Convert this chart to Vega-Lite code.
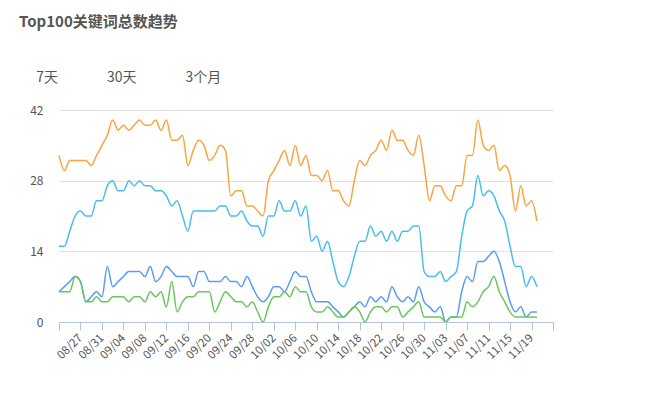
{
"$schema":"https://vega.github.io/schema/vega-lite/v6.json",
"width":494,"height":212,
"autosize":{"type":"none"},
"padding":{"left":59,"top":110,"right":94,"bottom":76},
"background":"white",
"title":{"text":"Top100关键词总数趋势","subtitle":"\u200b\u2003 7天\u2003\u2003\u2003\u200230天\u2003\u2003\u2003\u20023个月","anchor":"start","frame":"group","dx":-40,"offset":19,"fontSize":15,"fontWeight":"bold","color":"#555555","subtitleColor":"#555555","subtitleFontSize":14,"subtitlePadding":41,"font":"Noto Sans CJK SC","subtitleFont":"Noto Sans CJK SC"},
"data":{"values":[
{"date":"2019-08-23","series":"前100","value":33},{"date":"2019-08-24","series":"前100","value":30},{"date":"2019-08-25","series":"前100","value":32},{"date":"2019-08-26","series":"前100","value":32},{"date":"2019-08-27","series":"前100","value":32},{"date":"2019-08-28","series":"前100","value":32},{"date":"2019-08-29","series":"前100","value":31},{"date":"2019-08-30","series":"前100","value":33},{"date":"2019-08-31","series":"前100","value":35},{"date":"2019-09-01","series":"前100","value":37},
{"date":"2019-09-02","series":"前100","value":40},{"date":"2019-09-03","series":"前100","value":38},{"date":"2019-09-04","series":"前100","value":39},{"date":"2019-09-05","series":"前100","value":38},{"date":"2019-09-06","series":"前100","value":39},{"date":"2019-09-07","series":"前100","value":40},{"date":"2019-09-08","series":"前100","value":39},{"date":"2019-09-09","series":"前100","value":39},{"date":"2019-09-10","series":"前100","value":40},{"date":"2019-09-11","series":"前100","value":38},
{"date":"2019-09-12","series":"前100","value":40},{"date":"2019-09-13","series":"前100","value":36},{"date":"2019-09-14","series":"前100","value":36},{"date":"2019-09-15","series":"前100","value":37},{"date":"2019-09-16","series":"前100","value":31},{"date":"2019-09-17","series":"前100","value":34},{"date":"2019-09-18","series":"前100","value":36},{"date":"2019-09-19","series":"前100","value":35},{"date":"2019-09-20","series":"前100","value":32},{"date":"2019-09-21","series":"前100","value":33},
{"date":"2019-09-22","series":"前100","value":35},{"date":"2019-09-23","series":"前100","value":34},{"date":"2019-09-24","series":"前100","value":25},{"date":"2019-09-25","series":"前100","value":26},{"date":"2019-09-26","series":"前100","value":26},{"date":"2019-09-27","series":"前100","value":23},{"date":"2019-09-28","series":"前100","value":23},{"date":"2019-09-29","series":"前100","value":22},{"date":"2019-09-30","series":"前100","value":21},{"date":"2019-10-01","series":"前100","value":28},
{"date":"2019-10-02","series":"前100","value":30},{"date":"2019-10-03","series":"前100","value":32},{"date":"2019-10-04","series":"前100","value":34},{"date":"2019-10-05","series":"前100","value":31},{"date":"2019-10-06","series":"前100","value":35},{"date":"2019-10-07","series":"前100","value":31},{"date":"2019-10-08","series":"前100","value":33},{"date":"2019-10-09","series":"前100","value":29},{"date":"2019-10-10","series":"前100","value":29},{"date":"2019-10-11","series":"前100","value":28},
{"date":"2019-10-12","series":"前100","value":30},{"date":"2019-10-13","series":"前100","value":26},{"date":"2019-10-14","series":"前100","value":26},{"date":"2019-10-15","series":"前100","value":24},{"date":"2019-10-16","series":"前100","value":23},{"date":"2019-10-17","series":"前100","value":28},{"date":"2019-10-18","series":"前100","value":32},{"date":"2019-10-19","series":"前100","value":31},{"date":"2019-10-20","series":"前100","value":33},{"date":"2019-10-21","series":"前100","value":34},
{"date":"2019-10-22","series":"前100","value":36},{"date":"2019-10-23","series":"前100","value":34},{"date":"2019-10-24","series":"前100","value":38},{"date":"2019-10-25","series":"前100","value":36},{"date":"2019-10-26","series":"前100","value":36},{"date":"2019-10-27","series":"前100","value":34},{"date":"2019-10-28","series":"前100","value":33},{"date":"2019-10-29","series":"前100","value":37},{"date":"2019-10-30","series":"前100","value":31},{"date":"2019-10-31","series":"前100","value":24},
{"date":"2019-11-01","series":"前100","value":27},{"date":"2019-11-02","series":"前100","value":27},{"date":"2019-11-03","series":"前100","value":25},{"date":"2019-11-04","series":"前100","value":24},{"date":"2019-11-05","series":"前100","value":27},{"date":"2019-11-06","series":"前100","value":27},{"date":"2019-11-07","series":"前100","value":33},{"date":"2019-11-08","series":"前100","value":33},{"date":"2019-11-09","series":"前100","value":40},{"date":"2019-11-10","series":"前100","value":35},
{"date":"2019-11-11","series":"前100","value":34},{"date":"2019-11-12","series":"前100","value":35},{"date":"2019-11-13","series":"前100","value":30},{"date":"2019-11-14","series":"前100","value":31},{"date":"2019-11-15","series":"前100","value":29},{"date":"2019-11-16","series":"前100","value":22},{"date":"2019-11-17","series":"前100","value":27},{"date":"2019-11-18","series":"前100","value":23},{"date":"2019-11-19","series":"前100","value":24},{"date":"2019-11-20","series":"前100","value":20},

{"date":"2019-08-23","series":"前50","value":15},{"date":"2019-08-24","series":"前50","value":15},{"date":"2019-08-25","series":"前50","value":18},{"date":"2019-08-26","series":"前50","value":21},{"date":"2019-08-27","series":"前50","value":22},{"date":"2019-08-28","series":"前50","value":21},{"date":"2019-08-29","series":"前50","value":21},{"date":"2019-08-30","series":"前50","value":24},{"date":"2019-08-31","series":"前50","value":24},{"date":"2019-09-01","series":"前50","value":27},
{"date":"2019-09-02","series":"前50","value":28},{"date":"2019-09-03","series":"前50","value":26},{"date":"2019-09-04","series":"前50","value":26},{"date":"2019-09-05","series":"前50","value":28},{"date":"2019-09-06","series":"前50","value":27},{"date":"2019-09-07","series":"前50","value":28},{"date":"2019-09-08","series":"前50","value":27},{"date":"2019-09-09","series":"前50","value":27},{"date":"2019-09-10","series":"前50","value":26},{"date":"2019-09-11","series":"前50","value":26},
{"date":"2019-09-12","series":"前50","value":25},{"date":"2019-09-13","series":"前50","value":23},{"date":"2019-09-14","series":"前50","value":24},{"date":"2019-09-15","series":"前50","value":21},{"date":"2019-09-16","series":"前50","value":18},{"date":"2019-09-17","series":"前50","value":22},{"date":"2019-09-18","series":"前50","value":22},{"date":"2019-09-19","series":"前50","value":22},{"date":"2019-09-20","series":"前50","value":22},{"date":"2019-09-21","series":"前50","value":22},
{"date":"2019-09-22","series":"前50","value":23},{"date":"2019-09-23","series":"前50","value":23},{"date":"2019-09-24","series":"前50","value":21},{"date":"2019-09-25","series":"前50","value":21},{"date":"2019-09-26","series":"前50","value":22},{"date":"2019-09-27","series":"前50","value":20},{"date":"2019-09-28","series":"前50","value":19},{"date":"2019-09-29","series":"前50","value":19},{"date":"2019-09-30","series":"前50","value":17},{"date":"2019-10-01","series":"前50","value":21},
{"date":"2019-10-02","series":"前50","value":21},{"date":"2019-10-03","series":"前50","value":24},{"date":"2019-10-04","series":"前50","value":22},{"date":"2019-10-05","series":"前50","value":22},{"date":"2019-10-06","series":"前50","value":24},{"date":"2019-10-07","series":"前50","value":21},{"date":"2019-10-08","series":"前50","value":23},{"date":"2019-10-09","series":"前50","value":16},{"date":"2019-10-10","series":"前50","value":17},{"date":"2019-10-11","series":"前50","value":14},
{"date":"2019-10-12","series":"前50","value":16},{"date":"2019-10-13","series":"前50","value":12},{"date":"2019-10-14","series":"前50","value":8},{"date":"2019-10-15","series":"前50","value":7},{"date":"2019-10-16","series":"前50","value":9},{"date":"2019-10-17","series":"前50","value":13},{"date":"2019-10-18","series":"前50","value":16},{"date":"2019-10-19","series":"前50","value":16},{"date":"2019-10-20","series":"前50","value":19},{"date":"2019-10-21","series":"前50","value":17},
{"date":"2019-10-22","series":"前50","value":18},{"date":"2019-10-23","series":"前50","value":16},{"date":"2019-10-24","series":"前50","value":18},{"date":"2019-10-25","series":"前50","value":16},{"date":"2019-10-26","series":"前50","value":18},{"date":"2019-10-27","series":"前50","value":18},{"date":"2019-10-28","series":"前50","value":19},{"date":"2019-10-29","series":"前50","value":19},{"date":"2019-10-30","series":"前50","value":10},{"date":"2019-10-31","series":"前50","value":9},
{"date":"2019-11-01","series":"前50","value":9},{"date":"2019-11-02","series":"前50","value":10},{"date":"2019-11-03","series":"前50","value":8},{"date":"2019-11-04","series":"前50","value":9},{"date":"2019-11-05","series":"前50","value":10},{"date":"2019-11-06","series":"前50","value":17},{"date":"2019-11-07","series":"前50","value":22},{"date":"2019-11-08","series":"前50","value":23},{"date":"2019-11-09","series":"前50","value":29},{"date":"2019-11-10","series":"前50","value":25},
{"date":"2019-11-11","series":"前50","value":26},{"date":"2019-11-12","series":"前50","value":25},{"date":"2019-11-13","series":"前50","value":22},{"date":"2019-11-14","series":"前50","value":20},{"date":"2019-11-15","series":"前50","value":15},{"date":"2019-11-16","series":"前50","value":11},{"date":"2019-11-17","series":"前50","value":11},{"date":"2019-11-18","series":"前50","value":7},{"date":"2019-11-19","series":"前50","value":9},{"date":"2019-11-20","series":"前50","value":7},

{"date":"2019-08-23","series":"前20","value":6},{"date":"2019-08-24","series":"前20","value":7},{"date":"2019-08-25","series":"前20","value":8},{"date":"2019-08-26","series":"前20","value":9},{"date":"2019-08-27","series":"前20","value":8},{"date":"2019-08-28","series":"前20","value":4},{"date":"2019-08-29","series":"前20","value":5},{"date":"2019-08-30","series":"前20","value":6},{"date":"2019-08-31","series":"前20","value":5},{"date":"2019-09-01","series":"前20","value":11},
{"date":"2019-09-02","series":"前20","value":7},{"date":"2019-09-03","series":"前20","value":8},{"date":"2019-09-04","series":"前20","value":9},{"date":"2019-09-05","series":"前20","value":10},{"date":"2019-09-06","series":"前20","value":10},{"date":"2019-09-07","series":"前20","value":10},{"date":"2019-09-08","series":"前20","value":9},{"date":"2019-09-09","series":"前20","value":11},{"date":"2019-09-10","series":"前20","value":8},{"date":"2019-09-11","series":"前20","value":9},
{"date":"2019-09-12","series":"前20","value":11},{"date":"2019-09-13","series":"前20","value":10},{"date":"2019-09-14","series":"前20","value":9},{"date":"2019-09-15","series":"前20","value":9},{"date":"2019-09-16","series":"前20","value":9},{"date":"2019-09-17","series":"前20","value":7},{"date":"2019-09-18","series":"前20","value":10},{"date":"2019-09-19","series":"前20","value":10},{"date":"2019-09-20","series":"前20","value":8},{"date":"2019-09-21","series":"前20","value":8},
{"date":"2019-09-22","series":"前20","value":8},{"date":"2019-09-23","series":"前20","value":9},{"date":"2019-09-24","series":"前20","value":8},{"date":"2019-09-25","series":"前20","value":8},{"date":"2019-09-26","series":"前20","value":7},{"date":"2019-09-27","series":"前20","value":9},{"date":"2019-09-28","series":"前20","value":7},{"date":"2019-09-29","series":"前20","value":5},{"date":"2019-09-30","series":"前20","value":4},{"date":"2019-10-01","series":"前20","value":5},
{"date":"2019-10-02","series":"前20","value":7},{"date":"2019-10-03","series":"前20","value":7},{"date":"2019-10-04","series":"前20","value":6},{"date":"2019-10-05","series":"前20","value":8},{"date":"2019-10-06","series":"前20","value":10},{"date":"2019-10-07","series":"前20","value":9},{"date":"2019-10-08","series":"前20","value":9},{"date":"2019-10-09","series":"前20","value":6},{"date":"2019-10-10","series":"前20","value":4},{"date":"2019-10-11","series":"前20","value":4},
{"date":"2019-10-12","series":"前20","value":4},{"date":"2019-10-13","series":"前20","value":3},{"date":"2019-10-14","series":"前20","value":2},{"date":"2019-10-15","series":"前20","value":1},{"date":"2019-10-16","series":"前20","value":2},{"date":"2019-10-17","series":"前20","value":3},{"date":"2019-10-18","series":"前20","value":4},{"date":"2019-10-19","series":"前20","value":3},{"date":"2019-10-20","series":"前20","value":5},{"date":"2019-10-21","series":"前20","value":4},
{"date":"2019-10-22","series":"前20","value":5},{"date":"2019-10-23","series":"前20","value":4},{"date":"2019-10-24","series":"前20","value":7},{"date":"2019-10-25","series":"前20","value":5},{"date":"2019-10-26","series":"前20","value":4},{"date":"2019-10-27","series":"前20","value":5},{"date":"2019-10-28","series":"前20","value":4},{"date":"2019-10-29","series":"前20","value":7},{"date":"2019-10-30","series":"前20","value":4},{"date":"2019-10-31","series":"前20","value":3},
{"date":"2019-11-01","series":"前20","value":2},{"date":"2019-11-02","series":"前20","value":3},{"date":"2019-11-03","series":"前20","value":0},{"date":"2019-11-04","series":"前20","value":1},{"date":"2019-11-05","series":"前20","value":1},{"date":"2019-11-06","series":"前20","value":6},{"date":"2019-11-07","series":"前20","value":9},{"date":"2019-11-08","series":"前20","value":8},{"date":"2019-11-09","series":"前20","value":12},{"date":"2019-11-10","series":"前20","value":12},
{"date":"2019-11-11","series":"前20","value":13},{"date":"2019-11-12","series":"前20","value":14},{"date":"2019-11-13","series":"前20","value":12},{"date":"2019-11-14","series":"前20","value":8},{"date":"2019-11-15","series":"前20","value":4},{"date":"2019-11-16","series":"前20","value":2},{"date":"2019-11-17","series":"前20","value":3},{"date":"2019-11-18","series":"前20","value":1},{"date":"2019-11-19","series":"前20","value":2},{"date":"2019-11-20","series":"前20","value":2},

{"date":"2019-08-23","series":"前10","value":6},{"date":"2019-08-24","series":"前10","value":6},{"date":"2019-08-25","series":"前10","value":6},{"date":"2019-08-26","series":"前10","value":9},{"date":"2019-08-27","series":"前10","value":8},{"date":"2019-08-28","series":"前10","value":4},{"date":"2019-08-29","series":"前10","value":4},{"date":"2019-08-30","series":"前10","value":5},{"date":"2019-08-31","series":"前10","value":4},{"date":"2019-09-01","series":"前10","value":4},
{"date":"2019-09-02","series":"前10","value":5},{"date":"2019-09-03","series":"前10","value":5},{"date":"2019-09-04","series":"前10","value":5},{"date":"2019-09-05","series":"前10","value":4},{"date":"2019-09-06","series":"前10","value":5},{"date":"2019-09-07","series":"前10","value":5},{"date":"2019-09-08","series":"前10","value":4},{"date":"2019-09-09","series":"前10","value":6},{"date":"2019-09-10","series":"前10","value":5},{"date":"2019-09-11","series":"前10","value":6},
{"date":"2019-09-12","series":"前10","value":3},{"date":"2019-09-13","series":"前10","value":8},{"date":"2019-09-14","series":"前10","value":2},{"date":"2019-09-15","series":"前10","value":4},{"date":"2019-09-16","series":"前10","value":5},{"date":"2019-09-17","series":"前10","value":5},{"date":"2019-09-18","series":"前10","value":6},{"date":"2019-09-19","series":"前10","value":6},{"date":"2019-09-20","series":"前10","value":6},{"date":"2019-09-21","series":"前10","value":2},
{"date":"2019-09-22","series":"前10","value":4},{"date":"2019-09-23","series":"前10","value":6},{"date":"2019-09-24","series":"前10","value":5},{"date":"2019-09-25","series":"前10","value":4},{"date":"2019-09-26","series":"前10","value":4},{"date":"2019-09-27","series":"前10","value":3},{"date":"2019-09-28","series":"前10","value":4},{"date":"2019-09-29","series":"前10","value":2},{"date":"2019-09-30","series":"前10","value":0},{"date":"2019-10-01","series":"前10","value":3},
{"date":"2019-10-02","series":"前10","value":5},{"date":"2019-10-03","series":"前10","value":5},{"date":"2019-10-04","series":"前10","value":6},{"date":"2019-10-05","series":"前10","value":5},{"date":"2019-10-06","series":"前10","value":7},{"date":"2019-10-07","series":"前10","value":6},{"date":"2019-10-08","series":"前10","value":6},{"date":"2019-10-09","series":"前10","value":3},{"date":"2019-10-10","series":"前10","value":2},{"date":"2019-10-11","series":"前10","value":2},
{"date":"2019-10-12","series":"前10","value":3},{"date":"2019-10-13","series":"前10","value":2},{"date":"2019-10-14","series":"前10","value":1},{"date":"2019-10-15","series":"前10","value":1},{"date":"2019-10-16","series":"前10","value":2},{"date":"2019-10-17","series":"前10","value":3},{"date":"2019-10-18","series":"前10","value":2},{"date":"2019-10-19","series":"前10","value":0},{"date":"2019-10-20","series":"前10","value":2},{"date":"2019-10-21","series":"前10","value":3},
{"date":"2019-10-22","series":"前10","value":3},{"date":"2019-10-23","series":"前10","value":2},{"date":"2019-10-24","series":"前10","value":3},{"date":"2019-10-25","series":"前10","value":3},{"date":"2019-10-26","series":"前10","value":1},{"date":"2019-10-27","series":"前10","value":2},{"date":"2019-10-28","series":"前10","value":3},{"date":"2019-10-29","series":"前10","value":4},{"date":"2019-10-30","series":"前10","value":1},{"date":"2019-10-31","series":"前10","value":1},
{"date":"2019-11-01","series":"前10","value":1},{"date":"2019-11-02","series":"前10","value":1},{"date":"2019-11-03","series":"前10","value":0},{"date":"2019-11-04","series":"前10","value":1},{"date":"2019-11-05","series":"前10","value":1},{"date":"2019-11-06","series":"前10","value":1},{"date":"2019-11-07","series":"前10","value":4},{"date":"2019-11-08","series":"前10","value":3},{"date":"2019-11-09","series":"前10","value":4},{"date":"2019-11-10","series":"前10","value":6},
{"date":"2019-11-11","series":"前10","value":7},{"date":"2019-11-12","series":"前10","value":9},{"date":"2019-11-13","series":"前10","value":6},{"date":"2019-11-14","series":"前10","value":4},{"date":"2019-11-15","series":"前10","value":2},{"date":"2019-11-16","series":"前10","value":1},{"date":"2019-11-17","series":"前10","value":1},{"date":"2019-11-18","series":"前10","value":1},{"date":"2019-11-19","series":"前10","value":1},{"date":"2019-11-20","series":"前10","value":1}
]},
"mark":{"type":"line","interpolate":"monotone","strokeWidth":1.5},
"encoding":{
"x":{"field":"date","type":"temporal","scale":{"type":"utc","domain":[{"year":2019,"month":8,"date":23,"utc":true},{"year":2019,"month":11,"date":23,"utc":true}]},
"axis":{"title":null,"grid":false,"zindex":1,
"values":[{"year":2019,"month":8,"date":23,"utc":true},{"year":2019,"month":8,"date":27,"utc":true},{"year":2019,"month":8,"date":31,"utc":true},{"year":2019,"month":9,"date":4,"utc":true},{"year":2019,"month":9,"date":8,"utc":true},{"year":2019,"month":9,"date":12,"utc":true},{"year":2019,"month":9,"date":16,"utc":true},{"year":2019,"month":9,"date":20,"utc":true},{"year":2019,"month":9,"date":24,"utc":true},{"year":2019,"month":9,"date":28,"utc":true},{"year":2019,"month":10,"date":2,"utc":true},{"year":2019,"month":10,"date":6,"utc":true},{"year":2019,"month":10,"date":10,"utc":true},{"year":2019,"month":10,"date":14,"utc":true},{"year":2019,"month":10,"date":18,"utc":true},{"year":2019,"month":10,"date":22,"utc":true},{"year":2019,"month":10,"date":26,"utc":true},{"year":2019,"month":10,"date":30,"utc":true},{"year":2019,"month":11,"date":3,"utc":true},{"year":2019,"month":11,"date":7,"utc":true},{"year":2019,"month":11,"date":11,"utc":true},{"year":2019,"month":11,"date":15,"utc":true},{"year":2019,"month":11,"date":19,"utc":true},{"year":2019,"month":11,"date":23,"utc":true}],
"labelExpr":"(utcFormat(datum.value,'%m/%d')=='08/23'||utcFormat(datum.value,'%m/%d')=='11/23')?'':utcFormat(datum.value,'%m/%d')",
"labelAngle":-45,"labelBaseline":"middle","labelFontSize":11.5,"labelColor":"#555555","labelPadding":6,"labelOverlap":false,"labelFlush":false,"labelBound":false,
"domainColor":"#b3c4db","tickColor":"#b3c4db","tickSize":8,"domainWidth":1}},
"y":{"field":"value","type":"quantitative","scale":{"domain":[0,42],"nice":false},
"axis":{"title":null,"values":[0,14,28,42],"domain":false,"ticks":false,"gridColor":"#e2e2e2","labelColor":"#555555","labelFontSize":12,"labelPadding":16,"zindex":0}},
"color":{"field":"series","type":"nominal","legend":null,"scale":{"domain":["前100","前50","前20","前10"],"range":["#f8a43f","#47bfe8","#5c9cf0","#68c75c"]}}
},
"config":{"view":{"stroke":null},"font":"Noto Sans CJK SC"}
}
